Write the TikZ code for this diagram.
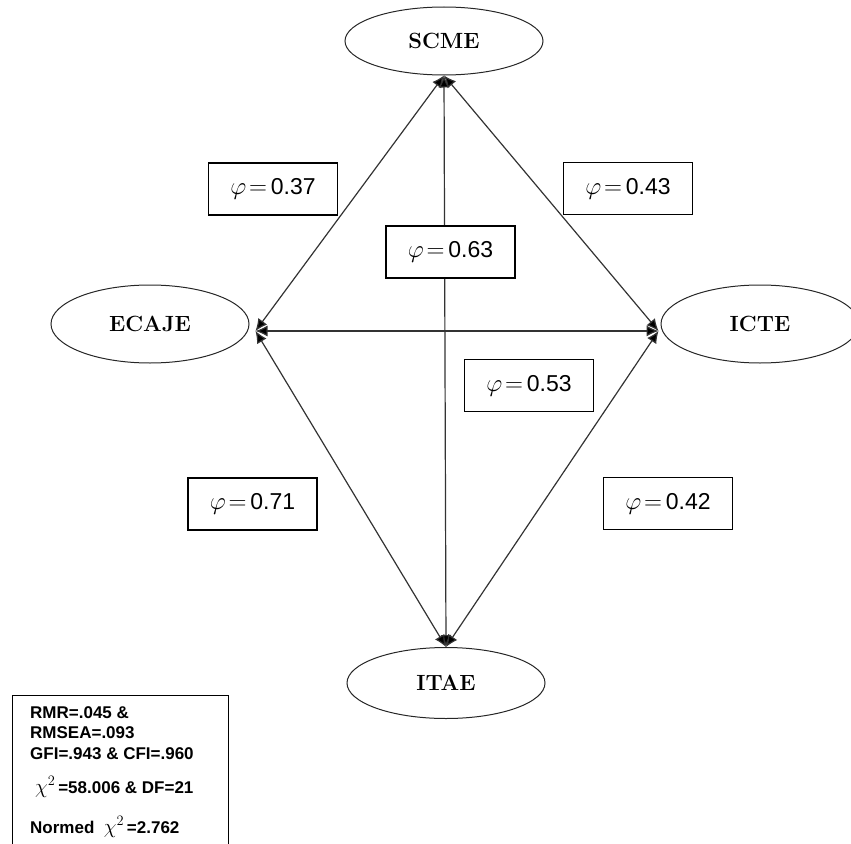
\documentclass[tikz,border=0pt]{standalone}
\usepackage{fontspec}
\usetikzlibrary{shapes.geometric,arrows.meta}
\newfontfamily\arialf{Liberation Sans}
\begin{document}
\begin{tikzpicture}[x=1pt,y=-1pt,
 latent/.style={draw=black!85, line width=1pt, ellipse, minimum width=198pt, minimum height=70pt, inner sep=0pt, font=\fontsize{22}{26}\selectfont\bfseries},
 coef/.style={draw, fill=white, line width=1.1pt, minimum width=129pt, minimum height=52pt, inner sep=0pt, font=\fontsize{23}{27}\selectfont\arialf},
 conn/.style={line width=1.2pt, draw=black!80, {Latex[length=12pt,width=11pt,fill=black]}-{Latex[length=12pt,width=11pt,fill=black]}},
 stat/.style={anchor=base west, inner sep=0pt, font=\fontsize{17}{20}\selectfont\arialf\bfseries}]
\useasboundingbox (0,0) rectangle (851,843);
\node[latent, minimum height=68pt] (scme) at (444,41) {SCME};
\node[latent, minimum height=78pt] (ecaje) at (150,324) {ECAJE};
\node[latent, minimum height=78pt] (icte) at (760,324) {ICTE};
\node[latent, minimum height=71pt] (itae) at (446,683) {ITAE};
\coordinate (eP) at ([shift={(6pt,-7pt)}]ecaje.east);
\coordinate (iP) at ([shift={(-2pt,-7pt)}]icte.west);
\draw[conn] (scme.south) -- (eP);
\draw[conn] (scme.south) -- (iP);
\draw[conn] (scme.south) -- (itae.north);
\draw[conn] (eP) -- (iP);
\draw[conn] (itae.north) -- (eP);
\draw[conn] (itae.north) -- (iP);
\node[coef] (c37) at (273,189) {$\varphi\!=$\,0.37};
\node[coef] (c43) at (628,188.5) {$\varphi\!=$\,0.43};
\node[coef] (c63) at (450.5,252) {$\varphi\!=$\,0.63};
\node[coef] (c53) at (529,385.5) {$\varphi\!=$\,0.53};
\node[coef] (c71) at (252.5,504) {$\varphi\!=$\,0.71};
\node[coef] (c42) at (668,503.5) {$\varphi\!=$\,0.42};
\node[draw, line width=1.2pt, minimum width=216pt, minimum height=160pt, anchor=north west, inner sep=0pt] (statsbox) at (12,695) {};
\node[stat] (l1) at (30,718) {RMR=.045 \&};
\node[stat] (l2) at (30,738) {RMSEA=.093};
\node[stat] (l3) at (30,759) {GFI=.943 \& CFI=.960};
\node[stat] (l4) at (35,793) {{\fontsize{22}{24}\selectfont$\chi^{2}$}\,=58.006 \& DF=21};
\node[stat] (l5) at (30,833) {Normed\ \ {\fontsize{22}{24}\selectfont$\chi^{2}$}\,=2.762};
\end{tikzpicture}
\end{document}
